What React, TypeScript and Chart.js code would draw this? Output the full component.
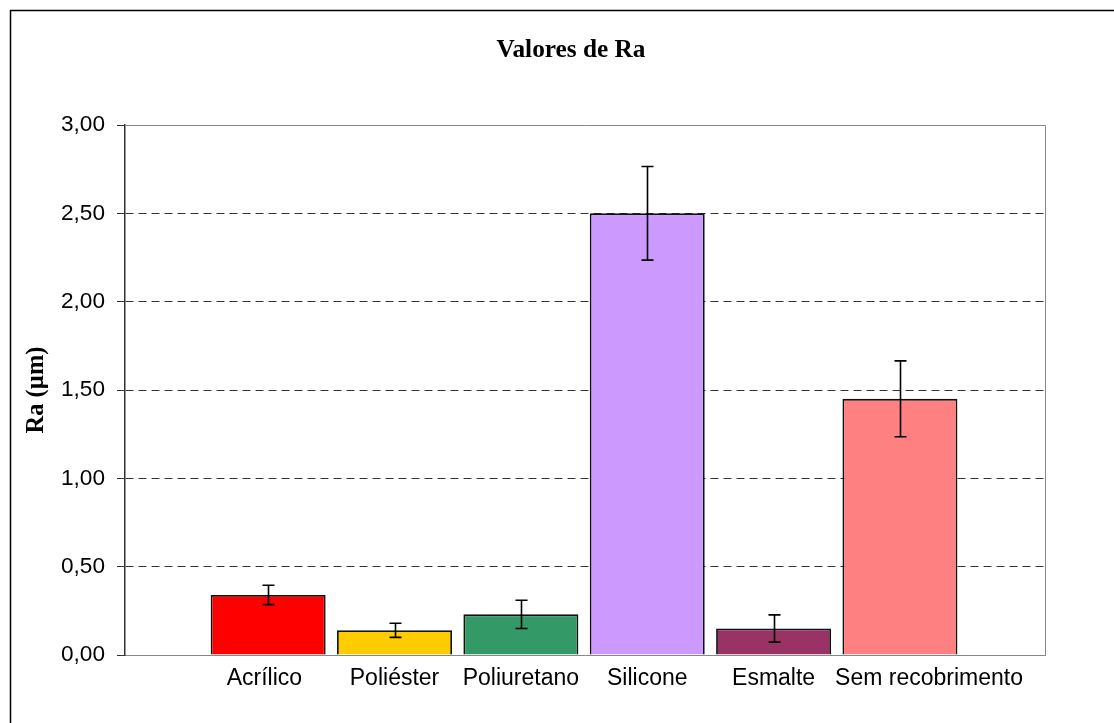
import React, { useEffect, useRef } from 'react';
import { Chart, registerables } from 'chart.js';

Chart.register(...registerables);

const chartTitle = 'Valores de Ra';
const yAxisTitle = 'Ra (µm)';
const categories = ['Acrílico', 'Poliéster', 'Poliuretano', 'Silicone', 'Esmalte', 'Sem recobrimento'];
const raValues = [0.34, 0.14, 0.23, 2.5, 0.15, 1.45];
const raErrors = [0.055, 0.04, 0.08, 0.265, 0.077, 0.215];
const barColors = ['#FF0000', '#FFCC00', '#339966', '#CC99FF', '#993366', '#FF8080'];
const yTickValues = [0, 0.5, 1, 1.5, 2, 2.5, 3];
const yTickLabels = ['0,00', '0,50', '1,00', '1,50', '2,00', '2,50', '3,00'];
// label nudges (in category units) so long labels don't collide, as in the original
const labelShift = [-0.03, 0, 0, 0, 0, 0.23];

const errorBarPlugin = {
  id: 'errorBars',
  afterDatasetsDraw(chart: any) {
    const { ctx } = chart;
    const xs = chart.scales.x;
    const ys = chart.scales.y;
    ctx.save();
    ctx.strokeStyle = '#000';
    ctx.lineWidth = 1.6;
    raValues.forEach((v, i) => {
      const x = Math.round(xs.getPixelForValue(i)) + 0.5;
      const yt = ys.getPixelForValue(v + raErrors[i]);
      const yb = ys.getPixelForValue(v - raErrors[i]);
      ctx.beginPath();
      ctx.moveTo(x, yt);
      ctx.lineTo(x, yb);
      ctx.moveTo(x - 6, yt);
      ctx.lineTo(x + 6, yt);
      ctx.moveTo(x - 6, yb);
      ctx.lineTo(x + 6, yb);
      ctx.stroke();
    });
    ctx.restore();
  },
};

const framePlugin = {
  id: 'frame',
  beforeDraw(chart: any) {
    const { ctx, width, height } = chart;
    ctx.save();
    ctx.fillStyle = '#fff';
    ctx.fillRect(0, 0, width, height);
    ctx.strokeStyle = '#000';
    ctx.lineWidth = 1.5;
    ctx.beginPath();
    ctx.moveTo(width, 10.5);
    ctx.lineTo(10.5, 10.5);
    ctx.lineTo(10.5, height);
    ctx.stroke();
    ctx.fillStyle = '#000';
    ctx.font = 'bold 25.3px "Liberation Serif"';
    ctx.textAlign = 'center';
    ctx.textBaseline = 'alphabetic';
    ctx.fillText(chartTitle, 571, 57);
    ctx.restore();
  },
  beforeDatasetsDraw(chart: any) {
    const { ctx, chartArea } = chart;
    ctx.save();
    ctx.strokeStyle = '#888';
    ctx.lineWidth = 1;
    ctx.beginPath();
    ctx.moveTo(chartArea.left, chartArea.top + 0.5);
    ctx.lineTo(chartArea.right + 0.5, chartArea.top + 0.5);
    ctx.lineTo(chartArea.right + 0.5, chartArea.bottom);
    ctx.stroke();
    ctx.restore();
  },
};

export default function App() {
  const ref = useRef<HTMLCanvasElement | null>(null);
  useEffect(() => {
    if (!ref.current) return;
    const chart = new Chart(ref.current, {
      type: 'bar',
      data: {
        datasets: [
          {
            data: raValues.map((v, i) => ({ x: i, y: v })),
            backgroundColor: barColors,
            borderColor: '#111',
            borderWidth: 1.8,
            barPercentage: 0.91,
            categoryPercentage: 1,
          },
        ],
      },
      options: {
        animation: false,
        responsive: false,
        maintainAspectRatio: false,
        layout: { padding: { left: 0, right: 69, top: 125, bottom: 0 } },
        plugins: {
          legend: { display: false },
          tooltip: { enabled: false },
          title: { display: false },
        },
        scales: {
          x: {
            type: 'linear',
            offset: false,
            min: -1.133,
            max: 6.148,
            afterBuildTicks: (scale: any) => {
              scale.ticks = categories.map((_, i) => ({ value: i + labelShift[i] }));
            },
            afterFit: (scale: any) => {
              scale.height = 68;
            },
            grid: { display: false, drawTicks: false, offset: false },
            border: { display: true, color: '#888', width: 1 },
            ticks: {
              autoSkip: false,
              maxRotation: 0,
              padding: 10,
              color: '#000',
              font: { family: 'Liberation Sans', size: 23 },
              callback: (value: any) => categories[Math.round(Number(value))] ?? '',
            },
          },
          y: {
            min: 0,
            max: 3,
            afterBuildTicks: (scale: any) => {
              scale.ticks = yTickValues.map((v) => ({ value: v }));
            },
            afterFit: (scale: any) => {
              scale.width = 125;
            },
            grid: {
              color: (c: any) =>
                c.tick && (c.tick.value === 0 || c.tick.value === 3) ? 'rgba(0,0,0,0)' : '#333',
              tickBorderDash: [],
              tickColor: '#333',
              tickLength: 8,
              lineWidth: 1,
            },
            border: { display: true, color: '#333', width: 1.5, dash: [8, 5] },
            ticks: {
              padding: 12,
              color: '#000',
              font: { family: 'Liberation Sans', size: 22.6 },
              callback: (value: any) => {
                const idx = yTickValues.indexOf(Number(value));
                return idx >= 0 ? yTickLabels[idx] : '';
              },
            },
            title: {
              display: true,
              text: yAxisTitle,
              color: '#000',
              font: { family: 'Liberation Serif', size: 24.5, weight: 'bold', lineHeight: 1.2 },
              padding: { top: 22, bottom: 0 },
            },
          },
        },
      },
      plugins: [framePlugin, errorBarPlugin],
    });
    return () => chart.destroy();
  }, []);
  return (
    <canvas
      ref={ref}
      width={1114}
      height={723}
      style={{ position: 'absolute', left: 0, top: 0, width: 1114, height: 723 }}
    />
  );
}
